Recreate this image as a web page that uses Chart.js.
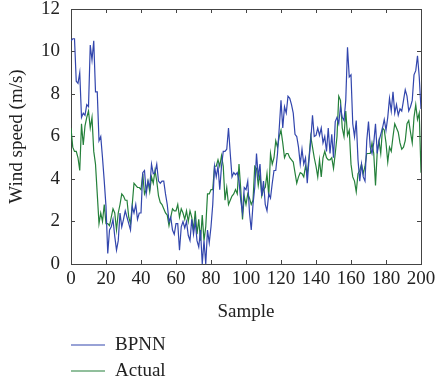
<!DOCTYPE html>
<html><head><meta charset="utf-8">
<script src="https://cdn.jsdelivr.net/npm/chart.js@4"></script>
<style>html,body{margin:0;padding:0;background:#fff;overflow:hidden}#wrap{width:437px;height:381px;position:relative}</style>
</head><body><div id="wrap"><canvas id="c" width="437" height="381"></canvas></div>
<script>
// ---- data ----
const bpnn = [
10.5,10.6,10.6,8.6,8.5,9.0,6.9,7.1,7.0,7.5,
7.4,10.3,9.6,10.5,8.1,8.1,5.8,6.0,5.0,3.9,
2.7,0.5,1.6,1.75,2.1,1.3,0.65,1.1,2.4,1.75,
2.1,2.5,2.2,1.9,1.6,2.7,2.4,2.8,2.1,2.4,
2.4,4.3,4.4,3.3,3.9,3.6,4.7,4.25,4.3,4.7,
3.9,3.8,3.9,3.9,3.3,2.8,2.0,2.2,1.6,1.4,
1.9,1.9,0.65,1.75,2.0,1.7,2.0,1.35,1.1,2.1,
1.4,2.0,1.1,0.8,1.6,0.0,1.1,0.0,1.6,1.0,
1.75,2.8,4.6,4.1,4.6,3.5,4.6,5.3,5.3,5.4,
6.4,5.2,4.1,4.3,4.2,4.3,3.9,3.0,2.4,3.6,
3.5,3.9,2.4,1.6,2.8,3.6,5.2,4.1,4.7,3.2,
3.9,2.8,2.5,3.3,3.1,3.8,4.4,4.4,5.2,6.4,
7.7,6.4,7.4,7.1,7.9,7.8,7.5,7.1,6.1,6.0,
5.5,4.7,5.4,4.7,5.0,3.8,4.9,5.8,7.0,6.0,
6.05,6.4,6.05,6.4,5.7,6.0,5.3,6.4,5.2,6.1,
5.0,6.7,6.9,6.6,7.4,6.9,6.75,7.7,10.2,8.8,
8.9,6.6,6.0,6.75,4.9,3.9,4.7,4.1,3.9,5.8,
6.7,5.5,5.2,5.7,6.6,5.2,5.8,6.1,6.4,6.8,
6.3,6.9,7.8,7.2,8.1,7.1,7.5,7.0,7.3,7.2,
7.7,8.2,7.9,7.2,7.4,7.7,8.9,9.1,9.8,8.8,
7.3
];
const actual = [
6.4,5.5,5.3,5.3,5.0,4.4,6.6,5.6,6.5,6.9,
7.2,6.4,6.9,5.3,4.7,3.3,1.9,2.4,2.0,2.8,
1.9,1.9,1.8,2.2,2.6,2.4,1.6,2.4,2.8,3.3,
3.2,3.0,3.0,2.2,1.9,2.8,3.8,3.7,3.6,3.6,
3.5,4.25,3.3,3.5,3.9,3.4,4.1,3.8,4.4,3.9,
3.2,2.9,2.8,2.6,2.4,2.3,1.8,2.2,2.6,2.5,
2.5,2.8,2.2,2.6,2.4,2.1,2.5,2.0,2.5,2.2,
1.6,2.5,1.4,2.1,1.1,2.3,1.1,1.75,3.3,3.3,
3.5,3.5,4.6,4.6,4.9,4.6,5.1,4.6,3.0,3.6,
2.8,3.0,3.2,3.3,3.5,3.3,4.7,3.5,2.1,3.2,
2.8,3.3,3.1,2.8,3.0,4.6,4.5,3.7,4.25,3.2,
3.5,3.6,4.25,3.2,5.2,4.7,5.0,5.8,5.5,6.0,
6.3,5.7,5.0,5.2,5.2,5.0,4.9,4.8,4.3,3.8,
4.1,4.3,4.25,4.1,4.6,4.25,5.0,6.0,5.5,5.0,
4.6,4.1,4.9,4.1,5.0,5.3,5.0,4.9,4.9,5.0,
4.5,5.2,6.0,7.9,7.7,6.4,6.0,7.2,6.05,6.3,
4.7,4.1,3.9,3.4,4.25,4.4,4.7,4.25,4.6,5.2,
5.2,5.2,5.7,5.2,3.7,5.3,5.8,5.2,6.4,6.3,
5.7,4.8,5.5,5.3,6.0,6.6,6.4,6.2,5.7,5.4,
5.5,5.8,6.6,6.75,6.2,5.7,6.9,7.5,6.8,7.1,
4.3
];
const seriesNames = ['BPNN', 'Actual'];
const seriesColors = ['#3246ad', '#24803a'];
const xTicks = [0, 20, 40, 60, 80, 100, 120, 140, 160, 180, 200];
const yTicks = [0, 2, 4, 6, 8, 10, 12];
const xTitle = 'Sample';
const yTitle = 'Wind speed (m/s)';

// ---- chart ----
const FONT = "'Liberation Serif', 'Times New Roman', serif";
const FS = 19;
const TXT = '#222';
const AX = '#444';

const toPts = arr => arr.map((v, i) => ({x: i, y: v}));

const lineLegend = {
  id: 'lineLegend',
  afterDraw(chart) {
    const ctx = chart.ctx;
    chart.data.datasets.forEach((ds, i) => {
      const y = 345 + i * 26;
      ctx.save();
      ctx.strokeStyle = ds.borderColor;
      ctx.lineWidth = 1.2;
      ctx.beginPath(); ctx.moveTo(71, y); ctx.lineTo(105, y); ctx.stroke();
      ctx.fillStyle = TXT;
      ctx.font = FS + 'px ' + FONT;
      ctx.textBaseline = 'middle';
      ctx.textAlign = 'left';
      ctx.fillText(ds.label, 115, y);
      ctx.restore();
    });
  }
};

const gridOpts = {drawOnChartArea: false, tickLength: -4, color: AX, tickWidth: 1};
const borderOpts = {display: true, color: AX, width: 1};
const noPad = s => { s.paddingTop = 0; s.paddingBottom = 0; s.paddingLeft = 0; s.paddingRight = 0; };

new Chart(document.getElementById('c'), {
  type: 'line',
  data: {
    datasets: [
      {label: seriesNames[0], data: toPts(bpnn), borderColor: seriesColors[0], borderWidth: 1.2, pointRadius: 0, tension: 0, fill: false},
      {label: seriesNames[1], data: toPts(actual), borderColor: seriesColors[1], borderWidth: 1.2, pointRadius: 0, tension: 0, fill: false}
    ]
  },
  options: {
    responsive: false,
    animation: false,
    devicePixelRatio: 1,
    layout: {padding: {left: 0, right: 16, top: 9, bottom: 0}},
    plugins: {legend: {display: false}, tooltip: {enabled: false}},
    scales: {
      x: {
        type: 'linear', position: 'bottom', min: 0, max: 200,
        afterBuildTicks: s => { s.ticks = xTicks.map(v => ({value: v})); },
        afterFit: s => { s.height = 117; noPad(s); },
        ticks: {font: {family: FONT, size: FS}, color: TXT, padding: 7.6, maxRotation: 0, autoSkip: false},
        grid: gridOpts, border: borderOpts,
        title: {display: true, text: xTitle, font: {family: FONT, size: FS}, color: TXT, padding: {top: 0, bottom: 57.6}}
      },
      y: {
        type: 'linear', position: 'left', min: 0, max: 12,
        afterBuildTicks: s => { s.ticks = yTicks.map(v => ({value: v})); },
        afterFit: s => { s.width = 71; noPad(s); },
        ticks: {font: {family: FONT, size: FS}, color: TXT, padding: 15, autoSkip: false},
        grid: gridOpts, border: borderOpts,
        title: {display: true, text: yTitle, font: {family: FONT, size: FS}, color: TXT, padding: {top: 5.6, bottom: 0}}
      },
      x2: {
        type: 'linear', position: 'top', min: 0, max: 200,
        afterBuildTicks: s => { s.ticks = xTicks.map(v => ({value: v})); },
        afterFit: s => { s.height = 0; noPad(s); },
        ticks: {display: false},
        grid: gridOpts, border: borderOpts
      },
      y2: {
        type: 'linear', position: 'right', min: 0, max: 12,
        afterBuildTicks: s => { s.ticks = yTicks.map(v => ({value: v})); },
        afterFit: s => { s.width = 0; noPad(s); },
        ticks: {display: false},
        grid: gridOpts, border: borderOpts
      }
    }
  },
  plugins: [lineLegend]
});
</script>
</body></html>
